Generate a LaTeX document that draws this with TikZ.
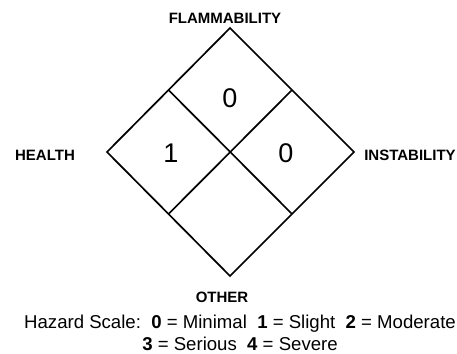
\documentclass[tikz,border=0pt]{standalone}
\usepackage{fontspec}
\setmainfont{Liberation Sans}
\usetikzlibrary{calc}

\tikzset{
    side label/.style={font=\fontsize{15}{17}\selectfont\bfseries},
    rating/.style={font=\fontsize{27}{30}\selectfont},
    box line/.style={line width=1.7pt, line join=miter}
}

\begin{document}
\begin{tikzpicture}[x=1pt, y=-1pt]
    \useasboundingbox (0,0) rectangle (457,353);

    % Diamond corners
    \coordinate (top) at (230,28);
    \coordinate (right) at (354,152);
    \coordinate (bottom) at (230,276);
    \coordinate (left) at (107,152);

    % Outline and inner cross
    \draw[box line] (top) -- (right) -- (bottom) -- (left) -- cycle;
    \draw[box line] ($(top)!0.5!(left)$) -- ($(right)!0.5!(bottom)$);
    \draw[box line] ($(top)!0.5!(right)$) -- ($(left)!0.5!(bottom)$);

    % Ratings
    \node[rating] (flam) at (230,98) {0};
    \node[rating] (health) at (171,153) {1};
    \node[rating] (inst) at (286,153) {0};

    % Side labels
    \node[side label] (flamlab) at (225,18) {FLAMMABILITY};
    \node[side label] (healthlab) at (45,155) {HEALTH};
    \node[side label] (instlab) at (410,155) {INSTABILITY};
    \node[side label] (otherlab) at (222,297) {OTHER};

    % Scale legend
    \node[font=\fontsize{18.6}{21.5}\selectfont, align=center, inner sep=0pt] (scale) at (240,333)
        {Hazard Scale:\ \ \textbf{0} = Minimal\ \ \textbf{1} = Slight\ \ \textbf{2} = Moderate\\
         \textbf{3} = Serious\ \ \textbf{4} = Severe};
\end{tikzpicture}
\end{document}
